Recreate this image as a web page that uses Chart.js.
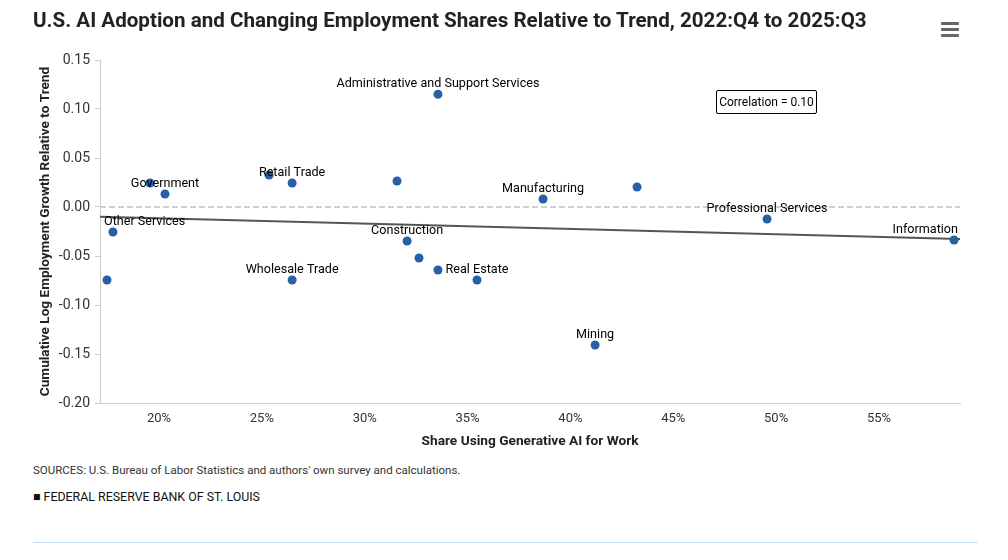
<!DOCTYPE html>
<html>
<head>
<meta charset="utf-8">
<script src="https://cdn.jsdelivr.net/npm/chart.js@4/dist/chart.umd.min.js"></script>
<style>
  body { margin: 0; background: #fff; font-family: Roboto, "Noto Sans", sans-serif; }
  #wrap { position: relative; width: 1008px; height: 560px; }
  #title { position: absolute; left: 33px; top: 8px; font-size: 20.6px; font-weight: bold; color: #222; white-space: nowrap; }
  #menu { position: absolute; left: 941px; top: 22px; width: 18px; }
  #menu div { height: 3px; background: #666; margin-bottom: 3px; border-radius: 1px; }
  #corr { position: absolute; left: 716px; top: 90px; width: 99px; height: 22px; border: 1px solid #000; border-radius: 2px;
          font-size: 12px; line-height: 22px; text-align: center; color: #000; }
  #src { position: absolute; left: 33px; top: 463px; font-size: 11.5px; color: #333; }
  #frb { position: absolute; left: 33px; top: 489px; font-size: 12.4px; color: #111; }
  #rule { position: absolute; left: 33px; top: 542px; width: 945px; height: 1px; background: #c8dcef; }
  canvas { position: absolute; left: 0; top: 0; }
</style>
</head>
<body>
<div id="wrap">
  <canvas id="scatter" width="1008" height="460"></canvas>
  <div id="title">U.S. AI Adoption and Changing Employment Shares Relative to Trend, 2022:Q4 to 2025:Q3</div>
  <div id="menu"><div></div><div></div><div></div></div>
  <div id="corr">Correlation = 0.10</div>
  <div id="src">SOURCES: U.S. Bureau of Labor Statistics and authors' own survey and calculations.</div>
  <div id="frb">&#9632; FEDERAL RESERVE BANK OF ST. LOUIS</div>
  <div id="rule"></div>
</div>
<script>
// industries (empty label = label hidden in the original)
const industries = ['Administrative and Support Services', '', 'Retail Trade', '', 'Government', 'Other Services', '',
  'Wholesale Trade', '', 'Construction', '', '', 'Real Estate', 'Manufacturing', '', 'Mining',
  'Professional Services', 'Information'];
const aiShare = [33.56, 25.35, 26.47, 19.56, 20.29, 17.76, 17.47, 26.47, 31.57, 32.06, 32.64, 33.56, 35.46, 38.67, 43.24, 41.2, 49.56, 58.65];
const empGrowth = [0.115, 0.0327, 0.0245, 0.0245, 0.0133, -0.0255, -0.0745, -0.0745, 0.0265, -0.0347, -0.052, -0.0643, -0.0745, 0.0082, 0.0204, -0.1408, -0.0122, -0.0337];

// fitted trend line ends
const trendX = [17.13, 58.94];
const trendY = [-0.0100, -0.0327];

const xTicks = [20, 25, 30, 35, 40, 45, 50, 55];
const yTicks = [-0.20, -0.15, -0.10, -0.05, 0.00, 0.05, 0.10, 0.15];

const points = aiShare.map((x, i) => ({ x: x, y: empGrowth[i] }));
const trend = trendX.map((x, i) => ({ x: x, y: trendY[i] }));

// dashed line at zero
const zeroLine = {
  id: 'zeroLine',
  beforeDatasetsDraw(chart) {
    const ctx = chart.ctx, a = chart.chartArea;
    const y = chart.scales.y.getPixelForValue(0);
    ctx.save();
    ctx.strokeStyle = '#d0d0d0';
    ctx.lineWidth = 2;
    ctx.setLineDash([6, 3]);
    ctx.beginPath();
    ctx.moveTo(a.left, y);
    ctx.lineTo(a.right, y);
    ctx.stroke();
    ctx.restore();
  }
};

// labels above points, kept inside the plot
const pointLabels = {
  id: 'pointLabels',
  afterDatasetsDraw(chart) {
    const ctx = chart.ctx, a = chart.chartArea;
    const meta = chart.getDatasetMeta(1);
    ctx.save();
    ctx.font = '12.6px Roboto, sans-serif';
    ctx.fillStyle = '#000';
    ctx.textBaseline = 'bottom';
    ctx.textAlign = 'left';
    meta.data.forEach((el, i) => {
      const txt = industries[i];
      if (!txt) return;
      const w = ctx.measureText(txt).width;
      let left = el.x - w / 2;
      if (left < a.left + 4) left = a.left + 4;
      if (left + w > a.right - 2) left = a.right - 2 - w;
      ctx.fillText(txt, left, el.y - 4);
    });
    ctx.restore();
  }
};

new Chart(document.getElementById('scatter').getContext('2d'), {
  type: 'scatter',
  data: {
    datasets: [{
      label: 'Trend',
      data: trend,
      showLine: true,
      borderColor: '#555',
      borderWidth: 2,
      pointRadius: 0,
      order: 2
    }, {
      label: 'Industries',
      data: points,
      backgroundColor: '#2860a8',
      borderWidth: 0,
      pointRadius: 4.5,
      pointHoverRadius: 4.5,
      order: 1
    }]
  },
  options: {
    responsive: false,
    animation: false,
    events: [],
    layout: { padding: { left: 34, top: 60, right: 48, bottom: 0 } },
    plugins: { legend: { display: false }, tooltip: { enabled: false } },
    scales: {
      x: {
        type: 'linear',
        min: trendX[0],
        max: trendX[1],
        afterFit(s) { s.height = 57; },
        afterBuildTicks(s) { s.ticks = xTicks.map(v => ({ value: v })); },
        grid: { display: false, drawTicks: false },
        border: { display: true, color: '#ccc', width: 1 },
        ticks: {
          padding: 8,
          color: '#333',
          font: { family: 'Roboto', size: 13 },
          callback: v => v + '%'
        },
        title: {
          display: true,
          text: 'Share Using Generative AI for Work',
          color: '#222',
          font: { family: 'Roboto', size: 13.7, weight: 'bold' },
          padding: { top: 0, bottom: 10 }
        }
      },
      y: {
        min: -0.2,
        max: 0.15,
        afterFit(s) { s.width = 66; },
        afterBuildTicks(s) { s.ticks = yTicks.map(v => ({ value: v })); },
        grid: { drawOnChartArea: false, tickLength: 5, tickColor: '#ccc' },
        border: { display: true, color: '#ccc', width: 1 },
        ticks: {
          padding: 5,
          color: '#333',
          font: { family: 'Roboto', size: 14 },
          callback: v => v.toFixed(2)
        },
        title: {
          display: true,
          text: 'Cumulative Log Employment Growth Relative to Trend',
          color: '#222',
          font: { family: 'Roboto', size: 13.6, weight: 'bold' },
          padding: { top: 3, bottom: 4 }
        }
      }
    }
  },
  plugins: [zeroLine, pointLabels]
});
</script>
</body>
</html>
